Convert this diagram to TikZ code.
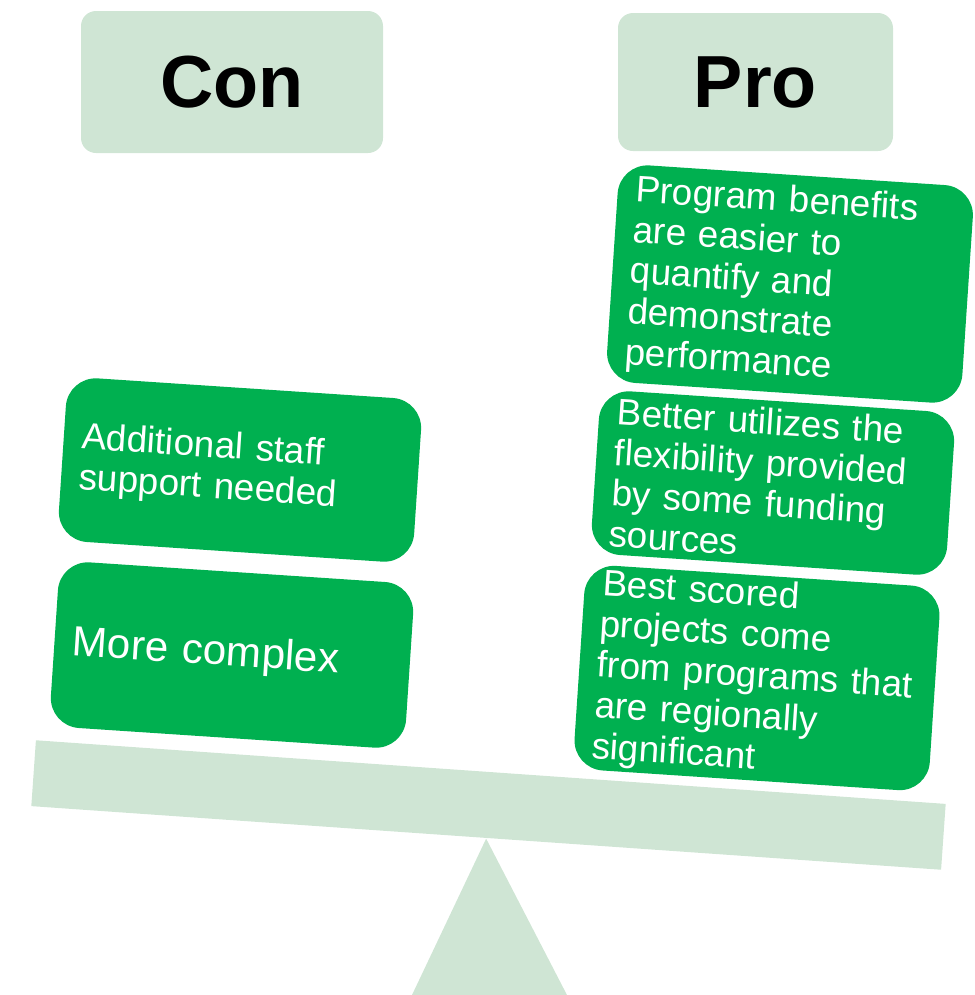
\documentclass[tikz,border=0pt]{standalone}
\usepackage{fontspec}
\setmainfont{Liberation Sans}
\definecolor{palegreen}{RGB}{207,229,212}
\definecolor{boxgreen}{RGB}{0,176,80}
\begin{document}
\begin{tikzpicture} [header/.style={fill=palegreen, rounded corners=0.15cm, font=\fontsize{21}{25}\selectfont\bfseries},
    argbox/.style={fill=boxgreen, text=white, rounded corners=0.3cm, rotate=-3.8, align=left,
      text width=3.2cm, inner xsep=0.18cm, inner ysep=0pt, minimum width=3.56cm,
      font=\fontsize{10.5}{11.6}\selectfont}]
    \useasboundingbox (0,0) rectangle (9.75,-9.95);
    % scale
    \node [fill=palegreen, rotate=-4, minimum width=9.12cm, minimum height=0.66cm, inner sep=0pt] (beam) at (4.885,-8.05) {};
    \fill [palegreen] (beam.south) -- (5.67,-9.95) -- (4.12,-9.95) -- cycle;
    % headers
    \node [header, minimum width=3.02cm, minimum height=1.42cm] (con) at (2.32,-0.82) {Con};
    \node [header, minimum width=2.75cm, minimum height=1.38cm] (pro) at (7.555,-0.82) {Pro};
    % con side
    \node [argbox, minimum height=1.64cm] (staff) at (2.40,-4.70) {Additional staff\\support needed};
    \node [argbox, minimum height=1.66cm, font=\fontsize{12}{14}\selectfont] (complex) at (2.32,-6.55) {More complex};
    % pro side
    \node [argbox, minimum height=2.18cm] (benefits) at (7.90,-2.84) {Program benefits\\are easier to\\quantify and\\demonstrate\\performance};
    \node [argbox, minimum height=1.64cm] (flexible) at (7.73,-4.83) {Better utilizes the\\flexibility provided\\by some funding\\sources};
    \node [argbox, minimum height=2.05cm] (scored) at (7.57,-6.78) {Best scored\\projects come\\from programs that\\are regionally\\significant};
  \end{tikzpicture}
\end{document}
